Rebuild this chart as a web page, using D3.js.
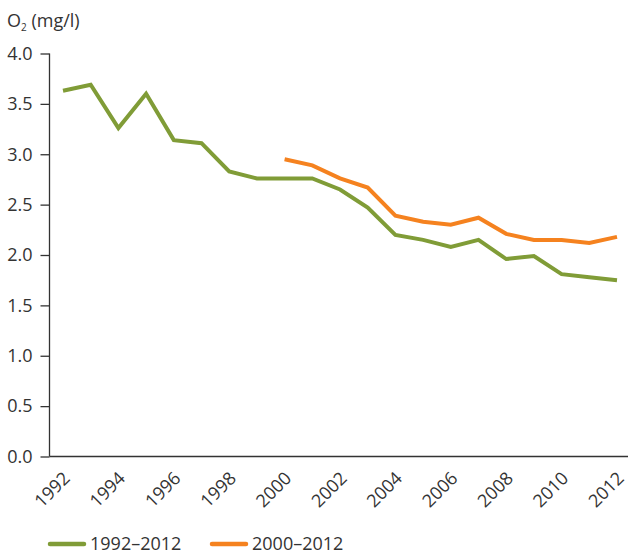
<!DOCTYPE html>
<html>
<head>
<meta charset="utf-8">
<script src="https://cdn.jsdelivr.net/npm/d3@7"></script>
<style>
  body { margin: 0; background: #fff; }
  svg { display: block; font-family: "Open Sans", sans-serif; }
</style>
</head>
<body>
<script>
const years = d3.range(1992, 2013);
const long = [3.63, 3.69, 3.26, 3.60, 3.14, 3.11, 2.83, 2.76, 2.76, 2.76, 2.65,
              2.47, 2.20, 2.15, 2.08, 2.15, 1.96, 1.99, 1.81, 1.78, 1.75];
const shortYears = d3.range(2000, 2013);
const short = [2.95, 2.89, 2.76, 2.67, 2.39, 2.33, 2.30, 2.37, 2.21, 2.15, 2.15, 2.12, 2.18];
const yTicks = [0, 0.5, 1, 1.5, 2, 2.5, 3, 3.5, 4];
const xTicks = d3.range(1992, 2013, 2);
const seriesNames = ['1992\u20132012', '2000\u20132012'];
const colors = ['#809c37', '#f5821f'];

const width = 628;
const height = 554;

const x = d3.scaleLinear().domain([1992, 2012]).range([63, 617]);
const y = d3.scaleLinear().domain([0, 4]).range([456.5, 53.5]);

const svg = d3.select('body')
  .append('svg')
  .attr('width', width)
  .attr('height', height);

// y axis
const yAxis = svg.append('g')
  .attr('transform', 'translate(49.5,0)')
  .call(d3.axisLeft(y).tickValues(yTicks).tickFormat(d3.format('.1f')).tickSize(9).tickPadding(8))
  .call(g => g.select('.domain').attr('d', `M0,${y(4)}V${y(0)}`));
yAxis.selectAll('line, path').attr('stroke', '#333').attr('stroke-width', 1.3);
yAxis.selectAll('text').attr('font-size', 18).attr('fill', '#333').attr('font-family', '"Open Sans", sans-serif');

// x axis
svg.append('line')
  .attr('x1', 49.5).attr('x2', width)
  .attr('y1', y(0)).attr('y2', y(0))
  .attr('stroke', '#333').attr('stroke-width', 1.3);

svg.append('g')
  .selectAll('text')
  .data(xTicks)
  .join('text')
    .attr('transform', d => `translate(${x(d) + 8},${y(0) + 23}) rotate(-45)`)
    .attr('text-anchor', 'end')
    .attr('font-size', 18)
    .attr('fill', '#333')
    .text(d => d);

// y label
const yl = svg.append('text')
  .attr('x', 7).attr('y', 27)
  .attr('font-size', 18)
  .attr('fill', '#333');
yl.append('tspan').text('O');
yl.append('tspan').attr('font-size', 10).attr('dy', 4).text('2');
yl.append('tspan').attr('dy', -4).text(' (mg/l)');

// lines
const line = d3.line().x(d => x(d[0])).y(d => y(d[1]));
const data = [d3.zip(years, long), d3.zip(shortYears, short)];

svg.append('g')
  .selectAll('path')
  .data(data)
  .join('path')
    .attr('fill', 'none')
    .attr('stroke', (d, i) => colors[i])
    .attr('stroke-width', 4)
    .attr('stroke-linejoin', 'miter')
    .attr('d', line);

// legend
const legend = svg.append('g')
  .selectAll('g')
  .data(seriesNames)
  .join('g')
    .attr('transform', (d, i) => `translate(${[50, 212][i]},544)`);

legend.append('line')
  .attr('x1', 0).attr('x2', 34)
  .attr('stroke', (d, i) => colors[i])
  .attr('stroke-width', 4.5)
  .attr('stroke-linecap', 'round');

legend.append('text')
  .attr('x', 40)
  .attr('dy', '0.35em')
  .attr('font-size', 18)
  .attr('fill', '#333')
  .text(d => d);
</script>
</body>
</html>
